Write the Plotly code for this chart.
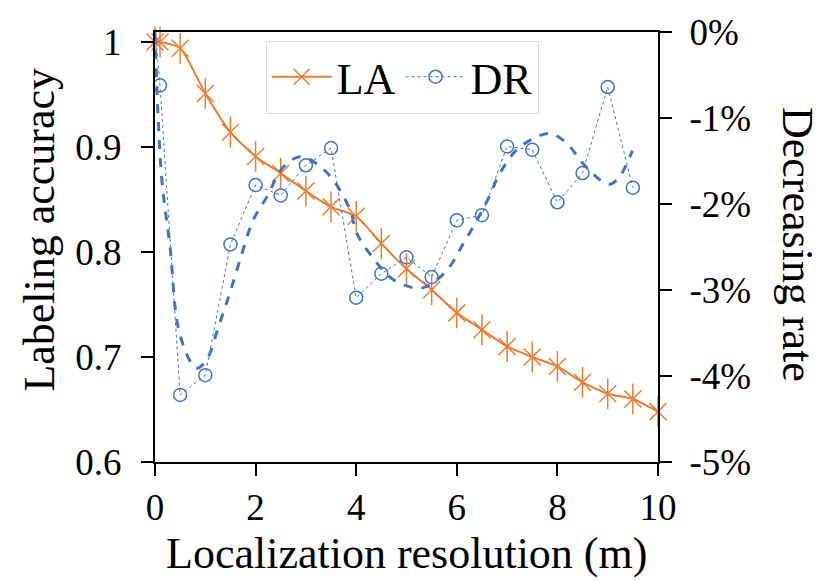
"""Labeling accuracy vs. localization resolution, with decreasing rate on a second axis."""

import plotly.graph_objects as go

# Values
resolution = [0, 0.1, 0.5, 1, 1.5, 2, 2.5, 3, 3.5, 4, 4.5, 5, 5.5, 6, 6.5, 7,
              7.5, 8, 8.5, 9, 9.5, 10]
labeling_accuracy = [1.0, 1.0, 0.994, 0.951, 0.914, 0.891, 0.875, 0.858, 0.843,
                     0.834, 0.808, 0.784, 0.764, 0.742, 0.726, 0.710, 0.700,
                     0.691, 0.676, 0.665, 0.660, 0.648]

dr_resolution = resolution[:-1]
decreasing_rate = [0.03, -0.62, -4.22, -3.99, -2.47, -1.78, -1.90, -1.55, -1.35,
                   -3.09, -2.81, -2.62, -2.85, -2.19, -2.13, -1.33, -1.37, -1.98,
                   -1.64, -0.64, -1.81]

# dashed trend curve of DR, read at points along the curve
trend_x = [0, 0.13, 0.30, 0.46, 0.70, 0.83, 1.03, 1.26, 1.49, 1.69, 1.95, 2.22,
           2.55, 2.88, 3.21, 3.54, 3.88, 4.01, 4.34, 4.74, 5.27, 5.60, 5.86, 6.13,
           6.40, 6.63, 6.86, 7.19, 7.52, 7.85, 8.18, 8.51, 8.85, 9.05, 9.24, 9.49]
trend_y = [0.0, -1.68, -2.50, -3.43, -3.83, -3.91, -3.81, -3.43, -3.03, -2.65,
           -2.19, -1.92, -1.57, -1.45, -1.53, -1.72, -2.07, -2.34, -2.63, -2.88,
           -2.98, -2.88, -2.73, -2.46, -2.19, -1.93, -1.64, -1.37, -1.24, -1.18,
           -1.29, -1.53, -1.72, -1.77, -1.68, -1.38]

x_ticks = [0, 2, 4, 6, 8, 10]
la_ticks = [0.6, 0.7, 0.8, 0.9, 1.0]
la_ticktext = ["0.6", "0.7", "0.8", "0.9", "1"]
dr_ticks = [-5, -4, -3, -2, -1, 0]
dr_ticktext = ["-5%", "-4%", "-3%", "-2%", "-1%", "0%"]

ORANGE = "#ED7D31"
BLUE = "#4472C4"
FONT = "Liberation Serif, Times New Roman, serif"

fig = go.Figure()

# DR trend (thick dashed)
fig.add_trace(go.Scatter(
    x=trend_x, y=trend_y, yaxis="y2", mode="lines",
    line=dict(color=BLUE, width=3, dash="dash", shape="spline", smoothing=1.0),
    showlegend=False, hoverinfo="skip",
))

# DR points (thin dotted)
fig.add_trace(go.Scatter(
    x=dr_resolution, y=decreasing_rate, yaxis="y2", mode="lines+markers",
    name="DR",
    line=dict(color=BLUE, width=1, dash="dot"),
    marker=dict(symbol="circle-open", size=13, color=BLUE, line=dict(width=1.5)),
    cliponaxis=False,
))

# LA line with x-shaped star markers
fig.add_trace(go.Scatter(
    x=resolution, y=labeling_accuracy, mode="lines+markers", name="LA",
    line=dict(color=ORANGE, width=2, shape="spline", smoothing=0.6),
    marker=dict(symbol="x-thin-open", size=17, color=ORANGE,
                line=dict(width=1.5, color=ORANGE)),
    cliponaxis=False,
))
# vertical bar of the star marker
fig.add_trace(go.Scatter(
    x=resolution, y=labeling_accuracy, mode="markers",
    marker=dict(symbol="line-ns-open", size=22, color=ORANGE,
                line=dict(width=1.5, color=ORANGE)),
    showlegend=False, hoverinfo="skip", cliponaxis=False,
))

axis_common = dict(
    showgrid=False, zeroline=False, showline=True, linecolor="black",
    linewidth=2, ticks="outside", ticklen=12, tickwidth=2, tickcolor="black",
    tickfont=dict(family=FONT, size=37, color="black"), automargin=False,
)

# the page body has an 8 px margin, so the figure is drawn 8 px smaller
fig.update_layout(
    width=822, height=573,
    margin=dict(l=147, r=172, t=24, b=119),
    plot_bgcolor="white", paper_bgcolor="white",
    font=dict(family=FONT, color="black"),
    xaxis=dict(range=[0, 10], tickvals=x_ticks, mirror=True, **axis_common),
    yaxis=dict(range=[0.6, 1.0095], tickvals=la_ticks, ticktext=la_ticktext,
               ticklabelstandoff=12, **axis_common),
    yaxis2=dict(range=[-5, 0], tickvals=dr_ticks, ticktext=dr_ticktext,
                overlaying="y", side="right", ticklabelstandoff=10,
                **axis_common),
    legend=dict(
        orientation="h", x=0.22, y=0.98, xanchor="left", yanchor="top",
        bgcolor="white", bordercolor="#D9D9D9", borderwidth=1,
        font=dict(family=FONT, size=44, color="black"),
        traceorder="reversed", itemwidth=60,
    ),
    annotations=[
        dict(text="Localization resolution (m)", xref="paper", yref="paper",
             x=0.5, y=-0.212, xanchor="center", yanchor="middle",
             showarrow=False, font=dict(family=FONT, size=44, color="black")),
        dict(text="Labeling accuracy", xref="paper", yref="paper",
             x=-0.229, y=0.54, xanchor="center", yanchor="middle", textangle=-90,
             showarrow=False, font=dict(family=FONT, size=44, color="black")),
        dict(text="Decreasing rate", xref="paper", yref="paper",
             x=1.276, y=0.505, xanchor="center", yanchor="middle", textangle=90,
             showarrow=False, font=dict(family=FONT, size=44, color="black")),
    ],
)

fig.write_html("out.html")
